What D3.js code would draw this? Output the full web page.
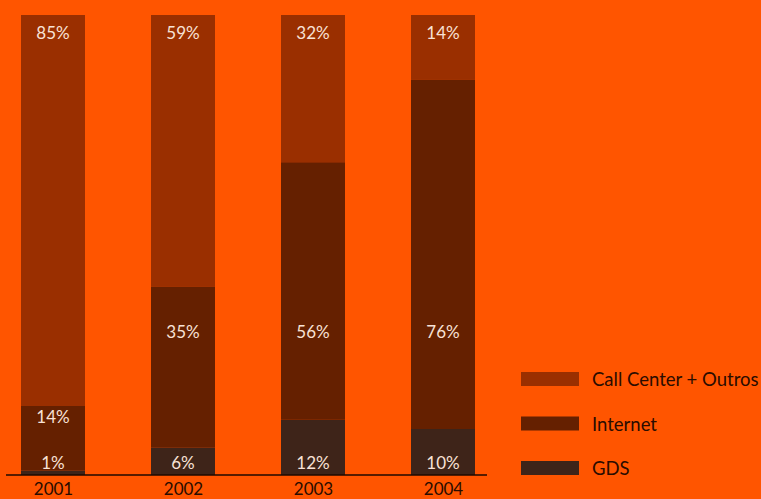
<!DOCTYPE html>
<html>
<head>
<meta charset="utf-8">
<script src="https://cdn.jsdelivr.net/npm/d3@7"></script>
<style>
  body { margin: 0; background: #ff5500; }
  svg { display: block; }
</style>
</head>
<body>
<div id="chart"></div>
<script>
// data
const years = ["2001", "2002", "2003", "2004"]
const gds = [1, 6, 12, 10]
const internet = [14, 35, 56, 76]
const callCenter = [85, 59, 32, 14]
const seriesNames = ["Call Center + Outros", "Internet", "GDS"]

const colors = { gds: "#3e2419", internet: "#652000", call: "#9a2f00" }

let width = 761
let height = 499

const rows = years.map((yr, i) => ({ year: yr, gds: gds[i], internet: internet[i], call: callCenter[i] }))
const stack = d3.stack().keys(["gds", "internet", "call"])(rows)

let svg = d3.select("#chart")
    .append("svg")
    .attr("width", width)
    .attr("height", height)

svg.append("rect")
    .attr("width", width)
    .attr("height", height)
    .attr("fill", "#ff5500")

let x = d3.scalePoint()
    .domain(years)
    .range([53, 443])

let y = d3.scaleLinear()
    .domain([0, 100])
    .range([475, 15])

const barW = 64

svg.selectAll(".layer")
    .data(stack)
    .enter()
    .append("g")
    .attr("fill", d => colors[d.key])
    .selectAll("rect")
    .data(d => d)
    .enter()
    .append("rect")
    .attr("x", d => x(d.data.year) - barW / 2)
    .attr("width", barW)
    .attr("y", d => y(d[1]))
    .attr("height", d => y(d[0]) - y(d[1]))

// axis line + year labels
let xAxis = svg.append("g")
    .attr("transform", "translate(0,475)")
    .call(d3.axisBottom(x).tickSize(0).tickPadding(8))
xAxis.select(".domain").remove()
xAxis.append("line")
    .attr("x1", 6).attr("x2", 487)
    .attr("stroke", "#1e0a00")
    .attr("stroke-width", 1.5)
xAxis.selectAll("text")
    .attr("font-family", "Lato, 'Open Sans', sans-serif")
    .attr("font-size", 17)
    .attr("fill", "#2a0c00")

// value labels
const labelFont = "Lato, 'Open Sans', sans-serif"
function addLabels(key, yFn) {
    const layer = stack.find(s => s.key === key)
    svg.append("g").selectAll("text")
        .data(layer)
        .enter()
        .append("text")
        .attr("x", d => x(d.data.year))
        .attr("y", yFn)
        .attr("text-anchor", "middle")
        .attr("dominant-baseline", "central")
        .attr("font-family", labelFont)
        .attr("font-size", 17)
        .attr("fill", "#f8e2d6")
        .text(d => (d[1] - d[0]) + "%")
}
addLabels("call", d => y(100) + 17)
addLabels("internet", d => Math.max(y(d[1]) + 10, 331))
addLabels("gds", d => 462)

// legend
let legend = svg.append("g")
    .selectAll("g")
    .data(seriesNames)
    .enter()
    .append("g")
    .attr("transform", (d, i) => "translate(521," + (372 + i * 44.5) + ")")

legend.append("rect")
    .attr("width", 58)
    .attr("height", 14)
    .attr("fill", (d, i) => [colors.call, colors.internet, colors.gds][i])

legend.append("text")
    .attr("x", 71)
    .attr("y", 7)
    .attr("dominant-baseline", "central")
    .attr("font-family", labelFont)
    .attr("font-size", 18.5)
    .attr("fill", "#2a0c00")
    .text(d => d)
</script>
</body>
</html>
